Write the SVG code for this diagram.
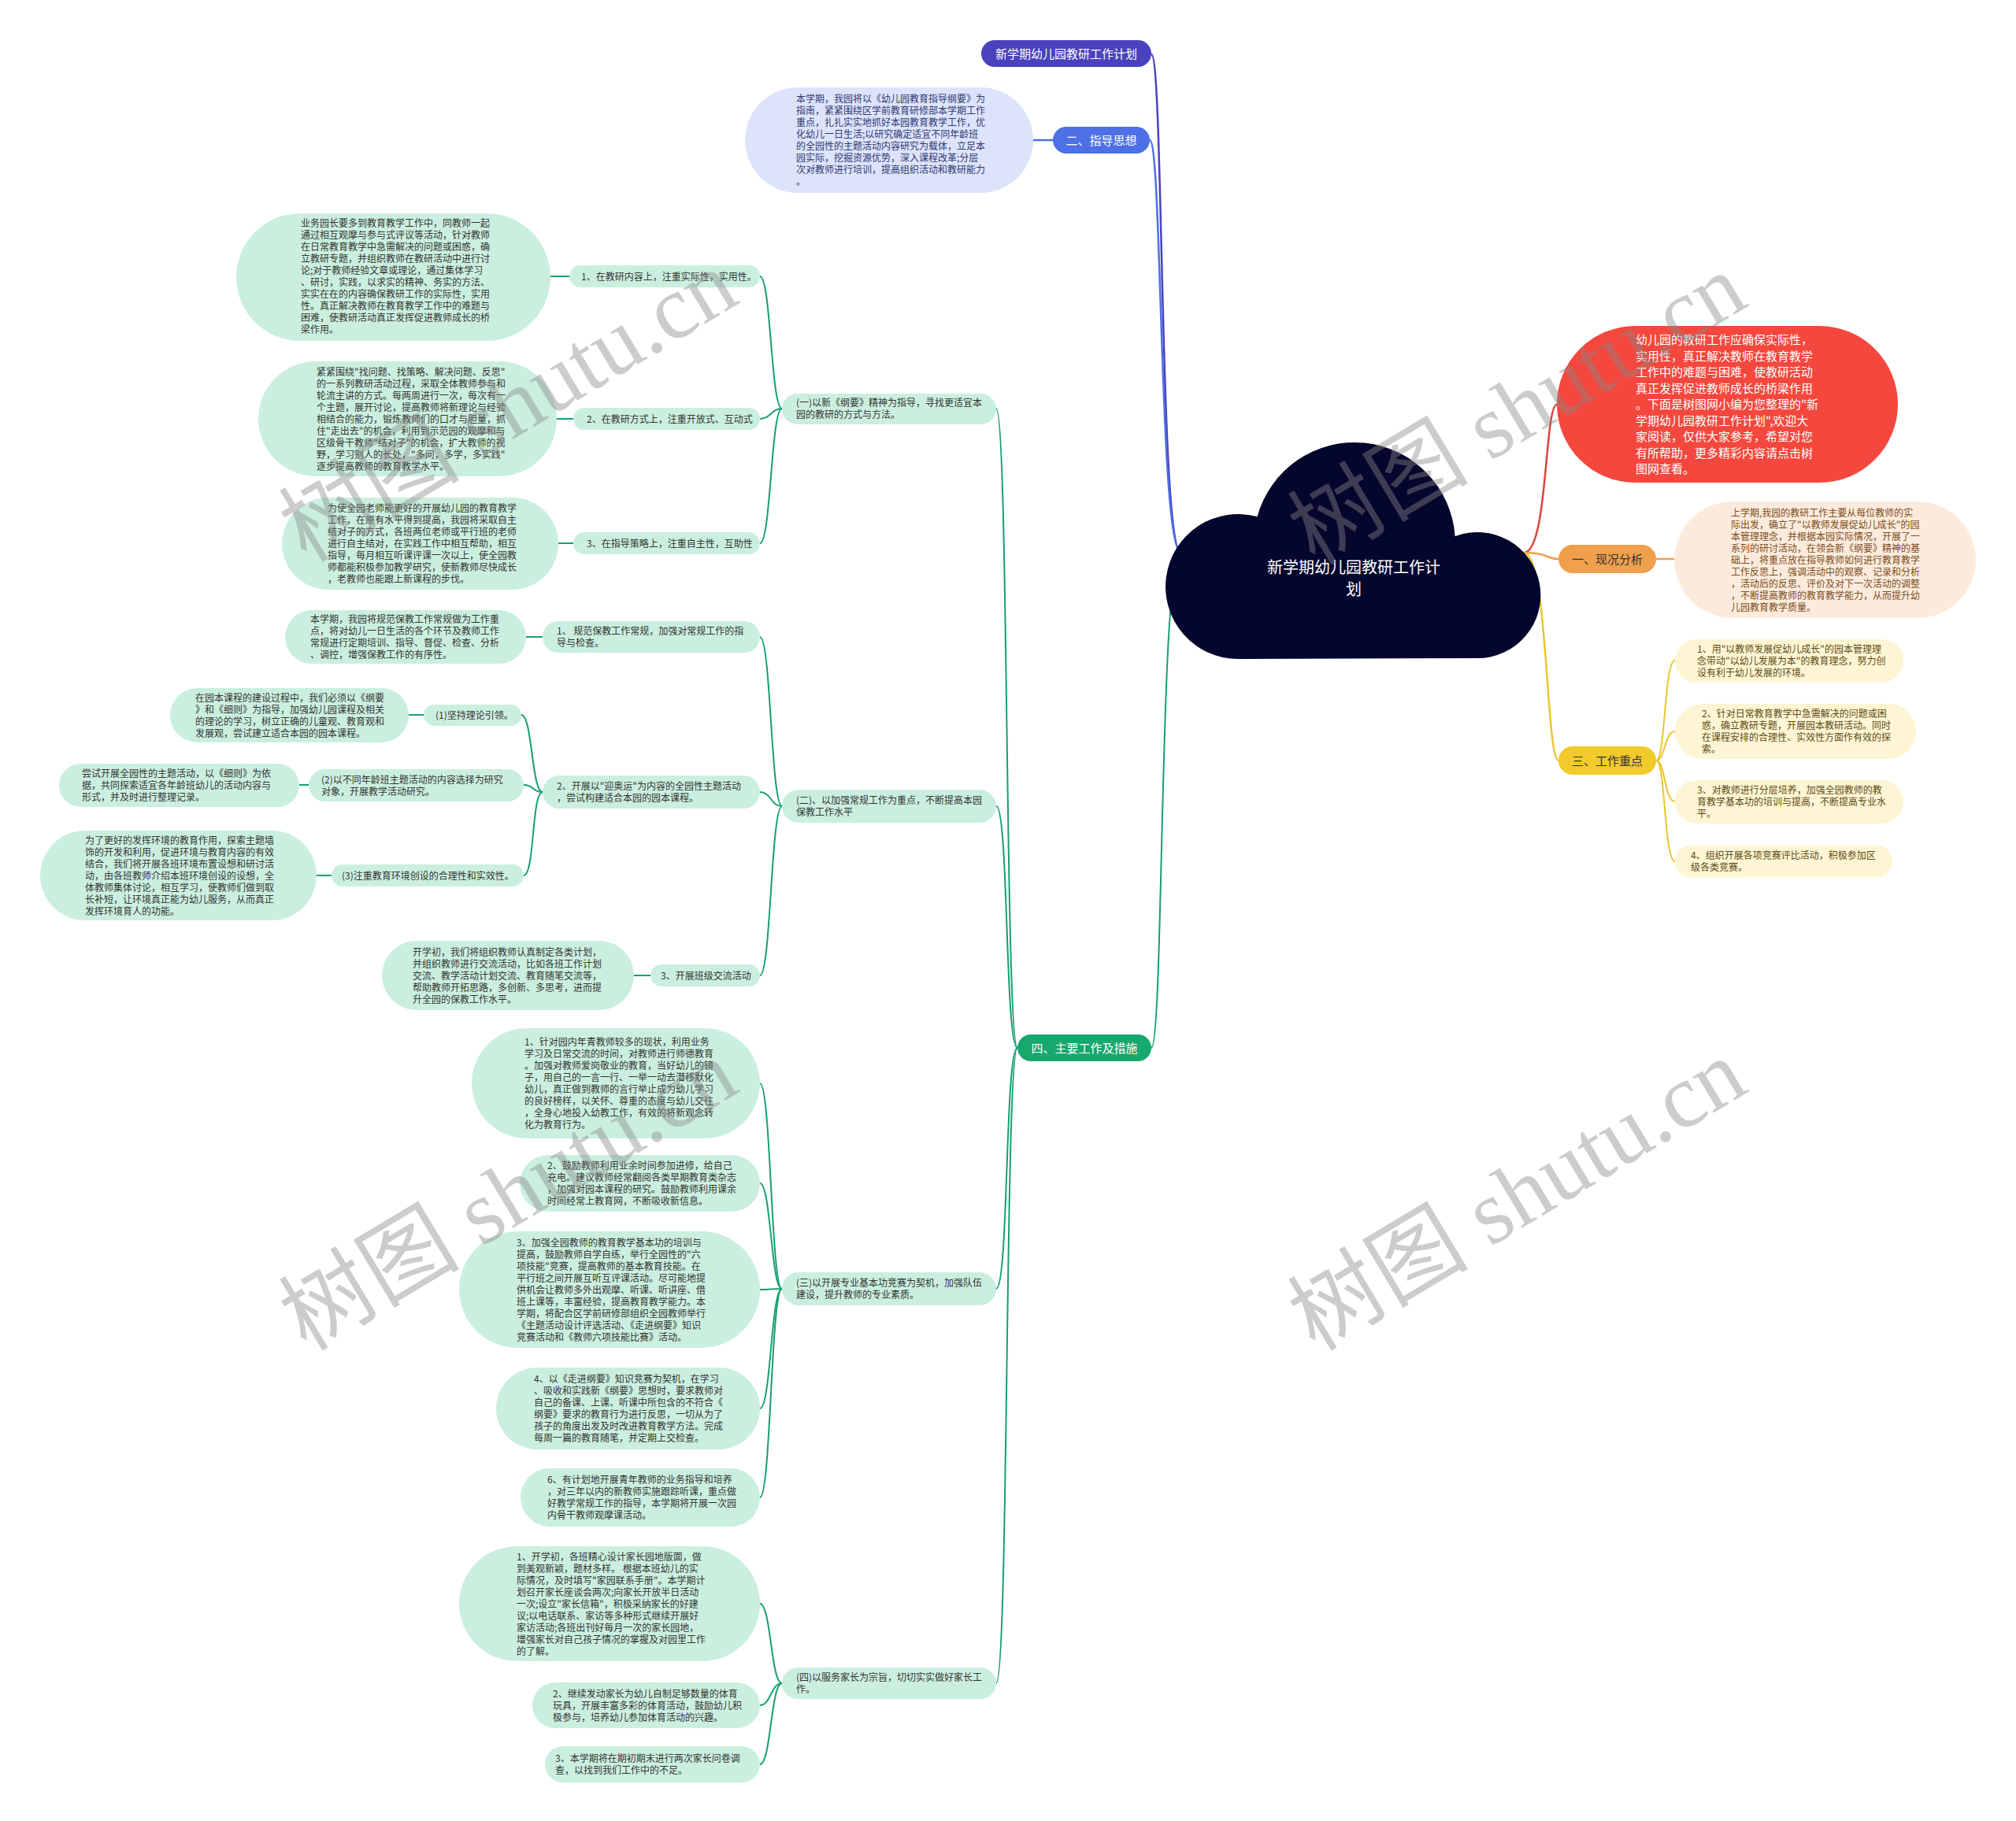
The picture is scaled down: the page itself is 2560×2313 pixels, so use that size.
<svg xmlns="http://www.w3.org/2000/svg" width="2560" height="2313" viewBox="0 0 2560 2313">
<style>
.f{font-family:'Noto Sans CJK SC','Noto Sans',sans-serif}
.s{font-size:12px;fill:#333}
.m{fill:#cbefdf}
.y{fill:#fdf5d3}
.ty{font-size:12px;fill:#5e4a14}
.g{fill:none;stroke:#17a06c;stroke-width:2}
.yl{fill:none;stroke:#e9c62c;stroke-width:2}
.wm{font-family:'Liberation Serif','Noto Sans CJK SC',serif;font-size:115px;fill:#888;opacity:.42}
</style>
<rect width="2560" height="2313" fill="#fff"/>
<g id="connectors">
<path d="M1462,69 C1478,69 1472,702 1500,702" fill="none" stroke="#4a42bd" stroke-width="2.5"/>
<path d="M1460,178 C1476,178 1472,702 1500,702" fill="none" stroke="#4d70e6" stroke-width="2.5"/>
<path d="M1462,1331 C1478,1331 1472,702 1500,702" class="g" stroke-width="2.5"/>
<path d="M1935,702 C1966,702 1961,514 1977,514" fill="none" stroke="#d9473b" stroke-width="2.5"/>
<path d="M1935,702 C1966,702 1963,710 1979,710" fill="none" stroke="#f0a04c" stroke-width="2.5"/>
<path d="M1935,702 C1966,702 1963,966 1979,966" fill="none" stroke="#e9c62c" stroke-width="2.5"/>
<path d="M1312,178 L1337,178" fill="none" stroke="#4d70e6" stroke-width="2.5"/>
<path d="M2103,710 L2126,710" fill="none" stroke="#f0a04c" stroke-width="2.5"/>
<path class="yl" d="M2103,966 C2115,966 2113,839 2127,839"/>
<path class="yl" d="M2103,966 C2115,966 2113,929 2127,929"/>
<path class="yl" d="M2103,966 C2115,966 2113,1018 2127,1018"/>
<path class="yl" d="M2103,966 C2115,966 2113,1094 2127,1094"/>
<path class="g" d="M1292,1331 C1276,1331 1281,519 1265,519"/>
<path class="g" d="M1292,1331 C1276,1331 1281,1024 1265,1024"/>
<path class="g" d="M1292,1331 C1276,1331 1281,1637 1265,1637"/>
<path class="g" d="M1292,1331 C1276,1331 1281,2138 1265,2138"/>
<path class="g" d="M993,519 C979,519 979,351 965,351"/>
<path class="g" d="M993,519 C979,519 979,532 965,532"/>
<path class="g" d="M993,519 C979,519 979,690 965,690"/>
<path class="g" d="M699,351 L723,351"/>
<path class="g" d="M707,532 L728,532"/>
<path class="g" d="M709,690 L728,690"/>
<path class="g" d="M993,1024 C979,1024 979,809 965,809"/>
<path class="g" d="M993,1024 C979,1024 979,1006 965,1006"/>
<path class="g" d="M993,1024 C979,1024 979,1239 965,1239"/>
<path class="g" d="M668,809 L689,809"/>
<path class="g" d="M689,1006 C675,1006 676,908 662,908"/>
<path class="g" d="M689,1006 C675,1006 679,997 665,997"/>
<path class="g" d="M689,1006 C675,1006 679,1112 665,1112"/>
<path class="g" d="M519,908 L538,908"/>
<path class="g" d="M380,997 L392,997"/>
<path class="g" d="M402,1112 L421,1112"/>
<path class="g" d="M805,1239 L826,1239"/>
<path class="g" d="M993,1637 C979,1637 979,1376 965,1376"/>
<path class="g" d="M993,1637 C979,1637 979,1503 965,1503"/>
<path class="g" d="M993,1637 C979,1637 979,1638 965,1638"/>
<path class="g" d="M993,1637 C979,1637 979,1789 965,1789"/>
<path class="g" d="M993,1637 C979,1637 979,1902 965,1902"/>
<path class="g" d="M993,2138 C979,2138 979,2037 965,2037"/>
<path class="g" d="M993,2138 C979,2138 979,2166 965,2166"/>
<path class="g" d="M993,2138 C979,2138 979,2241 965,2241"/>
</g>
<g id="root">
<path d="M1572,837 A92,92 0 1 1 1596.5,656.3 A128,128 0 0 1 1847.7,681.3 A80,80 0 1 1 1876,836 Z" fill="#05062d"/>
<text class="f" font-size="20" fill="#fff" text-anchor="middle"><tspan x="1719" y="727.6">新学期幼儿园教研工作计</tspan><tspan x="1719" y="755.6">划</tspan></text>
</g>
<g id="n-title">
<rect x="1246" y="51" width="216" height="34" rx="17" fill="#4a42bd"/>
<text class="f" x="1354" y="73.7" font-size="15" fill="#fff" text-anchor="middle">新学期幼儿园教研工作计划</text>
</g>
<g id="n-guide">
<rect x="1337" y="161" width="123" height="34" rx="17" fill="#4d70e6"/>
<text class="f" x="1398.5" y="183.7" font-size="15" fill="#fff" text-anchor="middle">二、指导思想</text>
</g>
<g id="n-guide-text">
<rect x="946" y="111" width="366" height="134" rx="67" fill="#dde3fb"/>
<text class="f" font-size="12" fill="#2e3a70"><tspan x="1011" y="130">本学期，我园将以《幼儿园教育指导纲要》为</tspan><tspan x="1011" y="145">指南，紧紧围绕区学前教育研修部本学期工作</tspan><tspan x="1011" y="160">重点，扎扎实实地抓好本园教育教学工作，优</tspan><tspan x="1011" y="175">化幼儿一日生活;以研究确定适宜不同年龄班</tspan><tspan x="1011" y="190">的全园性的主题活动内容研究为载体，立足本</tspan><tspan x="1011" y="205">园实际，挖掘资源优势，深入课程改革;分层</tspan><tspan x="1011" y="220">次对教师进行培训，提高组织活动和教研能力</tspan><tspan x="1011" y="235">。</tspan></text>
</g>
<g id="n-intro">
<rect x="1977" y="414" width="433" height="199" rx="99.5" fill="#f4473d"/>
<text class="f" font-size="15" fill="#fff"><tspan x="2077" y="437.2">幼儿园的教研工作应确保实际性，</tspan><tspan x="2077" y="457.7">实用性，真正解决教师在教育教学</tspan><tspan x="2077" y="478.2">工作中的难题与困难，使教研活动</tspan><tspan x="2077" y="498.7">真正发挥促进教师成长的桥梁作用</tspan><tspan x="2077" y="519.2">。下面是树图网小编为您整理的"新</tspan><tspan x="2077" y="539.7">学期幼儿园教研工作计划",欢迎大</tspan><tspan x="2077" y="560.2">家阅读，仅供大家参考，希望对您</tspan><tspan x="2077" y="580.7">有所帮助，更多精彩内容请点击树</tspan><tspan x="2077" y="601.2">图网查看。</tspan></text>
</g>
<g id="n-status">
<rect x="1979" y="692" width="124" height="36" rx="18" fill="#f0a04c"/>
<text class="f" x="2041" y="715.7" font-size="15" fill="#333" text-anchor="middle">一、现况分析</text>
</g>
<g id="n-status-text">
<rect x="2126" y="637" width="383" height="148" rx="74" fill="#fcebdc"/>
<text class="f" font-size="12" fill="#7a4b22"><tspan x="2198" y="655.5">上学期,我园的教研工作主要从每位教师的实</tspan><tspan x="2198" y="670.5">际出发，确立了"以教师发展促幼儿成长"的园</tspan><tspan x="2198" y="685.5">本管理理念，并根据本园实际情况，开展了一</tspan><tspan x="2198" y="700.5">系列的研讨活动，在领会新《纲要》精神的基</tspan><tspan x="2198" y="715.5">础上，将重点放在指导教师如何进行教育教学</tspan><tspan x="2198" y="730.5">工作反思上，强调活动中的观察、记录和分析</tspan><tspan x="2198" y="745.5">，活动后的反思、评价及对下一次活动的调整</tspan><tspan x="2198" y="760.5">，不断提高教师的教育教学能力，从而提升幼</tspan><tspan x="2198" y="775.5">儿园教育教学质量。</tspan></text>
</g>
<g id="n-focus">
<rect x="1979" y="948" width="124" height="36" rx="18" fill="#f1ca2b"/>
<text class="f" x="2041" y="971.7" font-size="15" fill="#333" text-anchor="middle">三、工作重点</text>
</g>
<g id="n-focus-1">
<rect class="y" x="2127" y="812" width="290" height="55" rx="27.5"/>
<text class="f ty"><tspan x="2155" y="828.5">1、用"以教师发展促幼儿成长"的园本管理理</tspan><tspan x="2155" y="843.5">念带动"以幼儿发展为本"的教育理念，努力创</tspan><tspan x="2155" y="858.5">设有利于幼儿发展的环境。</tspan></text>
</g>
<g id="n-focus-2">
<rect class="y" x="2127" y="894" width="306" height="70" rx="35"/>
<text class="f ty"><tspan x="2161" y="911">2、针对日常教育教学中急需解决的问题或困</tspan><tspan x="2161" y="926">惑，确立教研专题，开展园本教研活动。同时</tspan><tspan x="2161" y="941">在课程安排的合理性、实效性方面作有效的探</tspan><tspan x="2161" y="956">索。</tspan></text>
</g>
<g id="n-focus-3">
<rect class="y" x="2127" y="991" width="290" height="55" rx="27.5"/>
<text class="f ty"><tspan x="2155" y="1008">3、对教师进行分层培养，加强全园教师的教</tspan><tspan x="2155" y="1023">育教学基本功的培训与提高，不断提高专业水</tspan><tspan x="2155" y="1038">平。</tspan></text>
</g>
<g id="n-focus-4">
<rect class="y" x="2127" y="1074" width="276" height="40" rx="20"/>
<text class="f ty"><tspan x="2147" y="1091">4、组织开展各项竞赛评比活动，积极参加区</tspan><tspan x="2147" y="1106">级各类竞赛。</tspan></text>
</g>
<g id="n-main">
<rect x="1292" y="1314" width="170" height="34" rx="17" fill="#17a86e"/>
<text class="f" x="1377" y="1336.7" font-size="15" fill="#fff" text-anchor="middle">四、主要工作及措施</text>
</g>
<g id="n-a">
<rect class="m" x="993" y="500" width="272" height="39" rx="19.5"/>
<text class="f s"><tspan x="1011" y="516">(一)以新《纲要》精神为指导，寻找更适宜本</tspan><tspan x="1011" y="531">园的教研的方式与方法。</tspan></text>
</g>
<g id="n-a1">
<rect class="m" x="723" y="337" width="242" height="28" rx="14"/>
<text class="f s" x="738" y="355.5">1、在教研内容上，注重实际性，实用性。</text>
</g>
<g id="n-a1-text">
<rect class="m" x="300" y="271" width="399" height="162" rx="81"/>
<text class="f s"><tspan x="382" y="288">业务园长要多到教育教学工作中，同教师一起</tspan><tspan x="382" y="303">通过相互观摩与参与式评议等活动，针对教师</tspan><tspan x="382" y="318">在日常教育教学中急需解决的问题或困惑，确</tspan><tspan x="382" y="333">立教研专题，并组织教师在教研活动中进行讨</tspan><tspan x="382" y="348">论;对于教师经验文章或理论，通过集体学习</tspan><tspan x="382" y="363">、研讨，实践，以求实的精神、务实的方法、</tspan><tspan x="382" y="378">实实在在的内容确保教研工作的实际性，实用</tspan><tspan x="382" y="393">性。真正解决教师在教育教学工作中的难题与</tspan><tspan x="382" y="408">困难，使教研活动真正发挥促进教师成长的桥</tspan><tspan x="382" y="423">梁作用。</tspan></text>
</g>
<g id="n-a2">
<rect class="m" x="728" y="518" width="237" height="28" rx="14"/>
<text class="f s" x="745" y="536.5">2、在教研方式上，注重开放式、互动式</text>
</g>
<g id="n-a2-text">
<rect class="m" x="328" y="459" width="379" height="146" rx="73"/>
<text class="f s"><tspan x="402" y="476.5">紧紧围绕"找问题、找策略、解决问题、反思"</tspan><tspan x="402" y="491.5">的一系列教研活动过程，采取全体教师参与和</tspan><tspan x="402" y="506.5">轮流主讲的方式。每两周进行一次，每次有一</tspan><tspan x="402" y="521.5">个主题，展开讨论，提高教师将新理论与经验</tspan><tspan x="402" y="536.5">相结合的能力，锻炼教师们的口才与胆量，抓</tspan><tspan x="402" y="551.5">住"走出去"的机会，利用到示范园的观摩和与</tspan><tspan x="402" y="566.5">区级骨干教师"结对子"的机会，扩大教师的视</tspan><tspan x="402" y="581.5">野，学习别人的长处，"多问，多学，多实践"</tspan><tspan x="402" y="596.5">逐步提高教师的教育教学水平。</tspan></text>
</g>
<g id="n-a3">
<rect class="m" x="728" y="676" width="237" height="28" rx="14"/>
<text class="f s" x="745" y="694.5">3、在指导策略上，注重自主性，互助性</text>
</g>
<g id="n-a3-text">
<rect class="m" x="358" y="632" width="351" height="117" rx="58.5"/>
<text class="f s"><tspan x="416" y="649.5">为使全园老师能更好的开展幼儿园的教育教学</tspan><tspan x="416" y="664.5">工作，在原有水平得到提高，我园将采取自主</tspan><tspan x="416" y="679.5">结对子的方式，各班两位老师或平行班的老师</tspan><tspan x="416" y="694.5">进行自主结对，在实践工作中相互帮助，相互</tspan><tspan x="416" y="709.5">指导，每月相互听课评课一次以上，使全园教</tspan><tspan x="416" y="724.5">师都能积极参加教学研究，使新教师尽快成长</tspan><tspan x="416" y="739.5">，老教师也能跟上新课程的步伐。</tspan></text>
</g>
<g id="n-b">
<rect class="m" x="993" y="1003" width="272" height="42" rx="21"/>
<text class="f s"><tspan x="1011" y="1021">(二)、以加强常规工作为重点，不断提高本园</tspan><tspan x="1011" y="1036">保教工作水平</tspan></text>
</g>
<g id="n-b1">
<rect class="m" x="689" y="789" width="276" height="40" rx="20"/>
<text class="f s"><tspan x="707" y="806">1、 规范保教工作常规，加强对常规工作的指</tspan><tspan x="707" y="821">导与检查。</tspan></text>
</g>
<g id="n-b1-text">
<rect class="m" x="362" y="775" width="306" height="68" rx="34"/>
<text class="f s"><tspan x="394" y="791">本学期，我园将规范保教工作常规做为工作重</tspan><tspan x="394" y="806">点，将对幼儿一日生活的各个环节及教师工作</tspan><tspan x="394" y="821">常规进行定期培训、指导、督促、检查、分析</tspan><tspan x="394" y="836">、调控，增强保教工作的有序性。</tspan></text>
</g>
<g id="n-b2">
<rect class="m" x="689" y="985" width="276" height="42" rx="21"/>
<text class="f s"><tspan x="707" y="1003">2、开展以"迎奥运"为内容的全园性主题活动</tspan><tspan x="707" y="1018">，尝试构建适合本园的园本课程。</tspan></text>
</g>
<g id="n-b2a">
<rect class="m" x="538" y="895" width="124" height="27" rx="13.5"/>
<text class="f s" x="553" y="913">(1)坚持理论引领。</text>
</g>
<g id="n-b2a-text">
<rect class="m" x="216" y="874" width="303" height="69" rx="34.5"/>
<text class="f s"><tspan x="248" y="890.5">在园本课程的建设过程中，我们必须以《纲要</tspan><tspan x="248" y="905.5">》和《细则》为指导，加强幼儿园课程及相关</tspan><tspan x="248" y="920.5">的理论的学习，树立正确的儿童观、教育观和</tspan><tspan x="248" y="935.5">发展观，尝试建立适合本园的园本课程。</tspan></text>
</g>
<g id="n-b2b">
<rect class="m" x="392" y="977" width="273" height="41" rx="20.5"/>
<text class="f s"><tspan x="408" y="994.5">(2)以不同年龄班主题活动的内容选择为研究</tspan><tspan x="408" y="1009.5">对象，开展教学活动研究。</tspan></text>
</g>
<g id="n-b2b-text">
<rect class="m" x="75" y="970" width="305" height="55" rx="27.5"/>
<text class="f s"><tspan x="104" y="987">尝试开展全园性的主题活动，以《细则》为依</tspan><tspan x="104" y="1002">据，共同探索适宜各年龄班幼儿的活动内容与</tspan><tspan x="104" y="1017">形式，并及时进行整理记录。</tspan></text>
</g>
<g id="n-b2c">
<rect class="m" x="421" y="1098" width="244" height="28" rx="14"/>
<text class="f s" x="434" y="1116.5">(3)注重教育环境创设的合理性和实效性。</text>
</g>
<g id="n-b2c-text">
<rect class="m" x="51" y="1055" width="351" height="114" rx="57"/>
<text class="f s"><tspan x="108" y="1071.5">为了更好的发挥环境的教育作用，探索主题墙</tspan><tspan x="108" y="1086.5">饰的开发和利用，促进环境与教育内容的有效</tspan><tspan x="108" y="1101.5">结合，我们将开展各班环境布置设想和研讨活</tspan><tspan x="108" y="1116.5">动，由各班教师介绍本班环境创设的设想，全</tspan><tspan x="108" y="1131.5">体教师集体讨论，相互学习，使教师们做到取</tspan><tspan x="108" y="1146.5">长补短，让环境真正能为幼儿服务，从而真正</tspan><tspan x="108" y="1161.5">发挥环境育人的功能。</tspan></text>
</g>
<g id="n-b3">
<rect class="m" x="826" y="1225" width="139" height="28" rx="14"/>
<text class="f s" x="839" y="1243.5">3、开展班级交流活动</text>
</g>
<g id="n-b3-text">
<rect class="m" x="485" y="1195" width="320" height="88" rx="44"/>
<text class="f s"><tspan x="524" y="1213.5">开学初，我们将组织教师认真制定各类计划，</tspan><tspan x="524" y="1228.5">并组织教师进行交流活动，比如各班工作计划</tspan><tspan x="524" y="1243.5">交流、教学活动计划交流、教育随笔交流等，</tspan><tspan x="524" y="1258.5">帮助教师开拓思路，多创新、多思考，进而提</tspan><tspan x="524" y="1273.5">升全园的保教工作水平。</tspan></text>
</g>
<g id="n-c">
<rect class="m" x="993" y="1616" width="272" height="42" rx="21"/>
<text class="f s"><tspan x="1011" y="1634">(三)以开展专业基本功竞赛为契机，加强队伍</tspan><tspan x="1011" y="1649">建设，提升教师的专业素质。</tspan></text>
</g>
<g id="n-c1">
<rect class="m" x="599" y="1306" width="366" height="140" rx="70"/>
<text class="f s"><tspan x="666" y="1328">1、针对园内年青教师较多的现状，利用业务</tspan><tspan x="666" y="1343">学习及日常交流的时间，对教师进行师德教育</tspan><tspan x="666" y="1358">。加强对教师爱岗敬业的教育，当好幼儿的镜</tspan><tspan x="666" y="1373">子，用自己的一言一行、一举一动去潜移默化</tspan><tspan x="666" y="1388">幼儿，真正做到教师的言行举止成为幼儿学习</tspan><tspan x="666" y="1403">的良好榜样，以关怀、尊重的态度与幼儿交往</tspan><tspan x="666" y="1418">，全身心地投入幼教工作，有效的将新观念转</tspan><tspan x="666" y="1433">化为教育行为。</tspan></text>
</g>
<g id="n-c2">
<rect class="m" x="660" y="1467" width="305" height="72" rx="36"/>
<text class="f s"><tspan x="695" y="1485">2、鼓励教师利用业余时间参加进修，给自己</tspan><tspan x="695" y="1500">充电。建议教师经常翻阅各类早期教育类杂志</tspan><tspan x="695" y="1515">，加强对园本课程的研究。鼓励教师利用课余</tspan><tspan x="695" y="1530">时间经常上教育网，不断吸收新信息。</tspan></text>
</g>
<g id="n-c3">
<rect class="m" x="583" y="1564" width="382" height="148" rx="74"/>
<text class="f s"><tspan x="656" y="1582.5">3、加强全园教师的教育教学基本功的培训与</tspan><tspan x="656" y="1597.5">提高，鼓励教师自学自练，举行全园性的"六</tspan><tspan x="656" y="1612.5">项技能"竞赛，提高教师的基本教育技能。在</tspan><tspan x="656" y="1627.5">平行班之间开展互听互评课活动。尽可能地提</tspan><tspan x="656" y="1642.5">供机会让教师多外出观摩、听课、听讲座、借</tspan><tspan x="656" y="1657.5">班上课等，丰富经验，提高教育教学能力。本</tspan><tspan x="656" y="1672.5">学期，将配合区学前研修部组织全园教师举行</tspan><tspan x="656" y="1687.5">《主题活动设计评选活动、《走进纲要》知识</tspan><tspan x="656" y="1702.5">竞赛活动和《教师六项技能比赛》活动。</tspan></text>
</g>
<g id="n-c4">
<rect class="m" x="630" y="1737" width="335" height="104" rx="52"/>
<text class="f s"><tspan x="678" y="1756">4、以《走进纲要》知识竞赛为契机，在学习</tspan><tspan x="678" y="1771">、吸收和实践新《纲要》思想时，要求教师对</tspan><tspan x="678" y="1786">自己的备课、上课、听课中所包含的不符合《</tspan><tspan x="678" y="1801">纲要》要求的教育行为进行反思，一切从为了</tspan><tspan x="678" y="1816">孩子的角度出发及时改进教育教学方法。完成</tspan><tspan x="678" y="1831">每周一篇的教育随笔，并定期上交检查。</tspan></text>
</g>
<g id="n-c6">
<rect class="m" x="661" y="1865" width="304" height="74" rx="37"/>
<text class="f s"><tspan x="695" y="1884">6、有计划地开展青年教师的业务指导和培养</tspan><tspan x="695" y="1899">，对三年以内的新教师实施跟踪听课，重点做</tspan><tspan x="695" y="1914">好教学常规工作的指导，本学期将开展一次园</tspan><tspan x="695" y="1929">内骨干教师观摩课活动。</tspan></text>
</g>
<g id="n-d">
<rect class="m" x="993" y="2118" width="272" height="40" rx="20"/>
<text class="f s"><tspan x="1011" y="2135">(四)以服务家长为宗旨，切切实实做好家长工</tspan><tspan x="1011" y="2150">作。</tspan></text>
</g>
<g id="n-d1">
<rect class="m" x="583" y="1964" width="382" height="146" rx="73"/>
<text class="f s"><tspan x="656" y="1981.5">1、开学初，各班精心设计家长园地版面，做</tspan><tspan x="656" y="1996.5">到美观新颖，题材多样。 根据本班幼儿的实</tspan><tspan x="656" y="2011.5">际情况，及时填写"家园联系手册"。本学期计</tspan><tspan x="656" y="2026.5">划召开家长座谈会两次;向家长开放半日活动</tspan><tspan x="656" y="2041.5">一次;设立"家长信箱"，积极采纳家长的好建</tspan><tspan x="656" y="2056.5">议;以电话联系、家访等多种形式继续开展好</tspan><tspan x="656" y="2071.5">家访活动;各班出刊好每月一次的家长园地，</tspan><tspan x="656" y="2086.5">增强家长对自己孩子情况的掌握及对园里工作</tspan><tspan x="656" y="2101.5">的了解。</tspan></text>
</g>
<g id="n-d2">
<rect class="m" x="676" y="2137" width="289" height="58" rx="29"/>
<text class="f s"><tspan x="702" y="2155.5">2、继续发动家长为幼儿自制足够数量的体育</tspan><tspan x="702" y="2170.5">玩具，开展丰富多彩的体育活动，鼓励幼儿积</tspan><tspan x="702" y="2185.5">极参与，培养幼儿参加体育活动的兴趣。</tspan></text>
</g>
<g id="n-d3">
<rect class="m" x="692" y="2218" width="273" height="46" rx="23"/>
<text class="f s"><tspan x="705" y="2238">3、本学期将在期初期末进行两次家长问卷调</tspan><tspan x="705" y="2253">查，以找到我们工作中的不足。</tspan></text>
</g>
<g id="watermarks">
<text class="wm" transform="translate(645,515) rotate(-31)" y="40" text-anchor="middle">树图 shutu.cn</text>
<text class="wm" transform="translate(1926,519) rotate(-31)" y="40" text-anchor="middle">树图 shutu.cn</text>
<text class="wm" transform="translate(645,1517) rotate(-31)" y="40" text-anchor="middle">树图 shutu.cn</text>
<text class="wm" transform="translate(1926,1517) rotate(-31)" y="40" text-anchor="middle">树图 shutu.cn</text>
</g>
</svg>
